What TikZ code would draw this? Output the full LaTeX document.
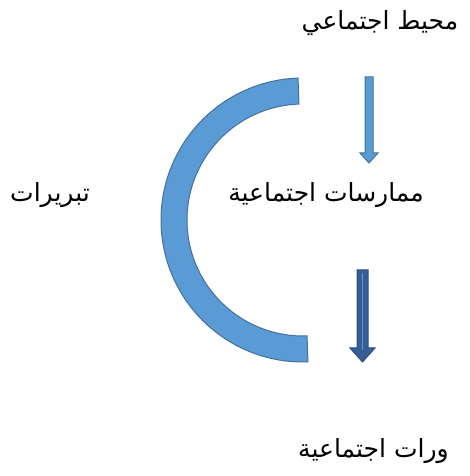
\documentclass[tikz,border=0pt]{standalone}
\usepackage{fontspec}
\newfontfamily\arabicfont[Script=Arabic]{DejaVu Sans}
\TeXXeTstate=1
\definecolor{arcfill}{HTML}{5B9BD5}
\definecolor{arcline}{HTML}{41719C}
\definecolor{darkarrow}{HTML}{355D96}
\definecolor{darkline}{HTML}{2F4F80}
\tikzset{
  label text/.style={inner sep=0pt, font=\arabicfont\fontsize{25}{30}\selectfont},
  band/.style={fill=arcfill, draw=arcline, line width=1pt},
  lightarrow/.style={fill=arcfill, draw=arcline, line width=1pt},
  heavyarrow/.style={fill=darkarrow, draw=darkline, line width=1pt},
}
\begin{document}
\begin{tikzpicture}[x=1pt,y=1pt]
\useasboundingbox (0,0) rectangle (470,476);
% text labels
\node[label text] (env) at (380,453) {\beginR محيط اجتماعي\endR};
\node[label text] (prac) at (326,281) {\beginR ممارسات اجتماعية\endR};
\node[label text] (just) at (50,281) {\beginR تبريرات\endR};
\node[label text, anchor=west] (repr) at (298,25) {\beginR ورات اجتماعية\endR};
% half-ring band
\coordinate (c) at (303,256);
\draw[band] ([shift={(92:142)}]c) arc[start angle=92, end angle=272, radius=142]
  -- ([shift={(272:116)}]c) arc[start angle=272, end angle=92, radius=116] -- cycle;
% thin arrow
\draw[lightarrow] (365,399) -- (373,399) -- (373,323) -- (378,323) -- (369,313)
  -- (360,323) -- (365,323) -- cycle;
% heavy arrow
\draw[heavyarrow] (357,206) -- (368,206) -- (368,128) -- (375,128) -- (362.5,114)
  -- (350,128) -- (357,128) -- cycle;
\draw[arcfill, line width=0.8pt] (362.5,203) -- (362.5,126);
\end{tikzpicture}
\end{document}
